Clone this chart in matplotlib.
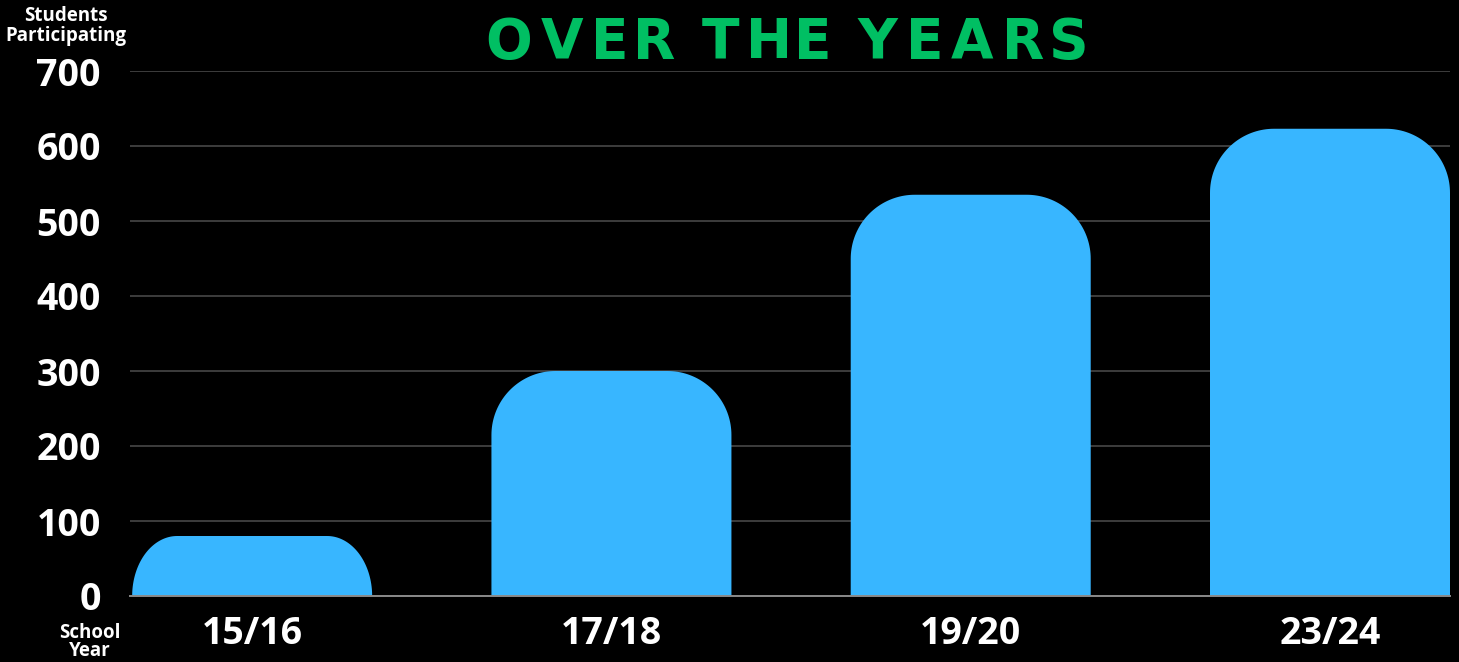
import numpy as np
import matplotlib
matplotlib.use("Agg")
import matplotlib.pyplot as plt
from matplotlib.path import Path
from matplotlib.patches import PathPatch
from matplotlib.textpath import TextPath
from matplotlib.font_manager import FontProperties

# ---- data ----
years = ["15/16", "17/18", "19/20", "23/24"]
students = [80, 300, 535, 623]
yticks = [0, 100, 200, 300, 400, 500, 600, 700]
title = "OVER THE YEARS"
ylabel_text = "Students\nParticipating"
xlabel_text = "School\nYear"

BG = "#000000"
BAR = "#38B6FF"
GREEN = "#00BF63"
W, H, DPI = 1459, 662, 100

fig = plt.figure(figsize=(W / DPI, H / DPI), dpi=DPI, facecolor=BG)
ax = fig.add_axes([130 / W, 66 / H, 1320 / W, 525 / H], facecolor=BG)

x = np.arange(len(years))
bw = 0.668
bars = ax.bar(x, students, width=bw, color=BAR, zorder=3)
ax.set_xlim(-0.34, 3.334)
ax.set_ylim(0, 700)

# rounded top corners (radius in pixels -> data units)
px_x = 1320 / (3.334 + 0.34)
px_y = 525 / 700
for rect in bars:
    x0 = rect.get_x(); w = rect.get_width(); h = rect.get_height()
    hpx = h * px_y
    ry_px = min(64, hpx)
    rx_px = min(64, 0.75 * hpx)
    rx = rx_px / px_x; ry = ry_px / px_y
    t = np.linspace(0, np.pi / 2, 40)
    verts = [(x0, 0), (x0 + w, 0)]
    cx, cy = x0 + w - rx, h - ry
    verts += [(cx + rx * np.cos(a), cy + ry * np.sin(a)) for a in t]
    cx, cy = x0 + rx, h - ry
    verts += [(cx + rx * np.cos(a), cy + ry * np.sin(a)) for a in (np.pi / 2 + t)]
    verts.append((x0, 0))
    rect.set_visible(False)
    ax.add_patch(PathPatch(Path(verts, closed=True), facecolor=BAR,
                           edgecolor="none", zorder=3))

ax.set_yticks(yticks)
ax.set_xticks(x)
ax.set_xticklabels(years)
ax.yaxis.grid(True, color="#4d4d4d", linewidth=1.1, zorder=0)
ax.set_axisbelow(True)
for s in ["top", "right", "left"]:
    ax.spines[s].set_visible(False)
ax.spines["bottom"].set_color("#8a8a8a")
ax.spines["bottom"].set_linewidth(1.4)
ax.spines["bottom"].set_zorder(4)
ax.tick_params(axis="both", length=0, colors="white")
ax.tick_params(axis="y", pad=21)
ax.tick_params(axis="x", pad=14)
for lab in ax.get_yticklabels() + ax.get_xticklabels():
    lab.set_fontfamily(["Open Sans", "DejaVu Sans"])
    lab.set_fontweight("bold")
    lab.set_fontsize(27)
    lab.set_color("white")

# axis captions
fig.text(66 / W, 1 - 26 / H, ylabel_text, ha="center", va="center",
         color="white", fontsize=13.5, fontweight="bold",
         family=["Open Sans", "DejaVu Sans"], linespacing=0.95)
fig.text(90 / W, 1 - 661 / H, xlabel_text, ha="center", va="bottom",
         color="white", fontsize=13.5, fontweight="bold",
         family=["Open Sans", "DejaVu Sans"], linespacing=0.9)

# title with letter spacing
fp = FontProperties(family="DejaVu Sans", weight="bold")
size_px = 55
track = 12
word_gap = 30
widths = []
for ch in title:
    if ch == " ":
        widths.append(None)
    else:
        widths.append(TextPath((0, 0), ch, size=size_px, prop=fp).get_extents().width)
xpos = 488.0
ybase = 1 - 58 / H
for ch, wch in zip(title, widths):
    if wch is None:
        xpos += word_gap - track
        continue
    fig.text((xpos + wch / 2) / W, ybase, ch, ha="center", va="baseline",
             color=GREEN, fontproperties=fp, fontsize=size_px * 72 / DPI)
    xpos += wch + track

fig.savefig("out.png", dpi=DPI, facecolor=BG)
